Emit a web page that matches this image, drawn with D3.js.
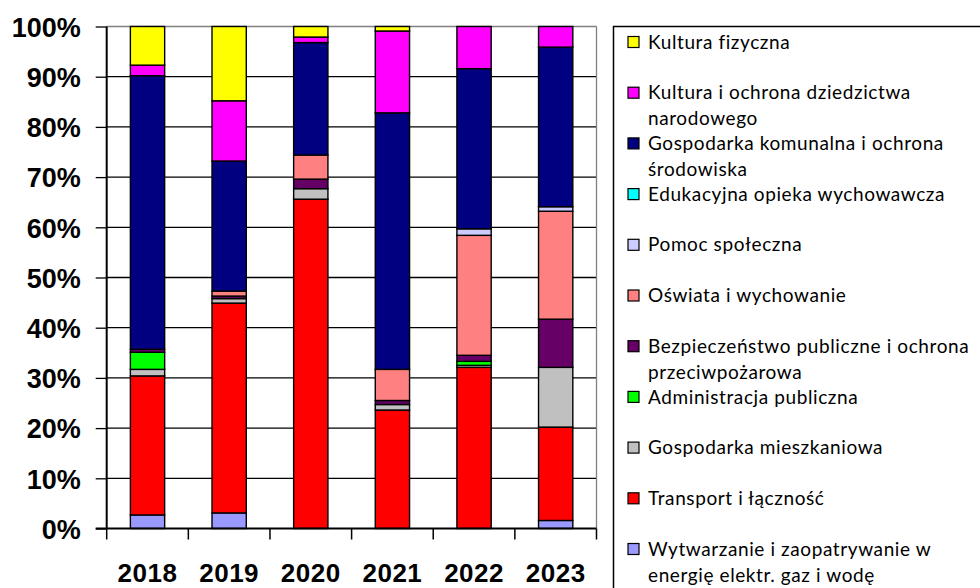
<!DOCTYPE html>
<html><head><meta charset="utf-8">
<script src="https://cdn.jsdelivr.net/npm/d3@7"></script>
<style>body{margin:0;background:#fff}svg{display:block}</style>
</head><body><svg id="c" width="980" height="588"></svg>
<script>
const years = ["2018","2019","2020","2021","2022","2023"];
const seriesNames = [
  "Wytwarzanie i zaopatrywanie w|energię elektr. gaz i wodę",
  "Transport i łączność",
  "Gospodarka mieszkaniowa",
  "Administracja publiczna",
  "Bezpieczeństwo publiczne i ochrona|przeciwpożarowa",
  "Oświata i wychowanie",
  "Pomoc społeczna",
  "Edukacyjna opieka wychowawcza",
  "Gospodarka komunalna i ochrona|środowiska",
  "Kultura i ochrona dziedzictwa|narodowego",
  "Kultura fizyczna"
];
const colors = ["#9999FF","#FF0000","#C0C0C0","#00FF00","#660066","#FF8080","#CCCCFF","#00FFFF","#000080","#FF00FF","#FFFF00"];
const v2018 = [2.7, 27.7, 1.3, 3.4, 0.6, 0, 0, 0, 54.5, 2.1, 7.7];
const v2019 = [3.1, 41.8, 0.9, 0, 0.5, 1.0, 0, 0, 25.9, 12.0, 14.8];
const v2020 = [0, 65.6, 2.1, 0, 1.9, 4.8, 0, 0, 22.4, 1.1, 2.1];
const v2021 = [0, 23.6, 1.1, 0, 0.8, 6.2, 0, 0, 51.1, 16.3, 0.9];
const v2022 = [0, 32.1, 0.4, 0.8, 1.2, 23.9, 1.3, 0, 31.9, 8.4, 0];
const v2023 = [1.6, 18.6, 11.9, 0, 9.6, 21.5, 0.9, 0, 31.8, 4.1, 0];
const yTicks = [0,10,20,30,40,50,60,70,80,90,100];

const valuesByYear = [v2018, v2019, v2020, v2021, v2022, v2023];
const keys = seriesNames.map((d,i)=>"s"+i);
const table = years.map((y,i)=>{const o={year:y}; keys.forEach((k,j)=>o[k]=valuesByYear[i][j]); return o;});

const svg = d3.select("#c");
const L=106.7, R=596.5, T=26.5, B=528.5;
const x = d3.scaleBand().domain(years).range([L,R]).paddingInner(0.58).paddingOuter(0.29);
const y = d3.scaleLinear().domain([0,100]).range([B,T]);

// gridlines
svg.append("g").selectAll("line").data(yTicks.slice(1)).join("line")
  .attr("x1",L).attr("x2",R).attr("y1",d=>y(d)).attr("y2",d=>y(d))
  .attr("stroke",d=>d===100?"#808080":"#000").attr("stroke-width",1.3);
// right border
svg.append("line").attr("x1",R).attr("x2",R).attr("y1",T).attr("y2",B).attr("stroke","#808080").attr("stroke-width",1.3);

const stack = d3.stack().keys(keys)(table);
svg.append("g").selectAll("g").data(stack).join("g")
  .attr("fill",(d,i)=>colors[i])
  .selectAll("rect").data(d=>d).join("rect")
  .filter(d=>d[1]-d[0]>0)
  .attr("x",d=>x(d.data.year)).attr("width",x.bandwidth())
  .attr("y",d=>y(d[1])).attr("height",d=>y(d[0])-y(d[1]))
  .attr("stroke","#000").attr("stroke-width",1.4);

// y axis
const ya = svg.append("g").attr("transform",`translate(${L},0)`)
  .call(d3.axisLeft(y).tickValues(yTicks).tickSize(11).tickFormat(d=>d+"%"));
ya.select(".domain").attr("stroke","#000").attr("stroke-width",2).attr("d",`M0,${T}V${B}`);
ya.selectAll(".tick line").attr("stroke","#000").attr("stroke-width",1.3);
ya.selectAll(".tick text").attr("x",-26).attr("dy","0.36em")
  .attr("font-family","Liberation Sans, Arial, sans-serif").attr("font-weight","bold").attr("font-size",27).attr("fill","#000");

// x axis
const bx = d3.scalePoint().domain(d3.range(years.length+1)).range([L,R]);
svg.append("line").attr("x1",L-11).attr("x2",R).attr("y1",B).attr("y2",B).attr("stroke","#000").attr("stroke-width",2);
svg.append("g").selectAll("line").data(d3.range(years.length+1)).join("line")
  .attr("x1",d=>bx(d)).attr("x2",d=>bx(d)).attr("y1",B).attr("y2",B+11).attr("stroke","#000").attr("stroke-width",1.5);
svg.append("g").selectAll("text").data(years).join("text")
  .attr("x",d=>x(d)+x.bandwidth()/2).attr("y",582).attr("text-anchor","middle")
  .attr("font-family","Liberation Sans, Arial, sans-serif").attr("font-weight","bold").attr("font-size",26).attr("fill","#000")
  .attr("letter-spacing",0.5)
  .text(d=>d);

// legend
const lg = svg.append("g");
lg.append("rect").attr("x",613.5).attr("y",26.5).attr("width",400).attr("height",600)
  .attr("fill","#fff").attr("stroke","#000").attr("stroke-width",1.5);
const order = d3.range(seriesNames.length).reverse();
const ly = d3.scalePoint().domain(order).range([42,549]);
const items = lg.selectAll("g.it").data(order).join("g").attr("class","it")
  .attr("transform",d=>`translate(0,${ly(d)})`);
items.append("rect").attr("x",628).attr("y",-5.5).attr("width",11).attr("height",11)
  .attr("fill",d=>colors[d]).attr("stroke","#000").attr("stroke-width",1.2);
items.each(function(d){
  const lines = seriesNames[d].split("|");
  d3.select(this).selectAll("text").data(lines).join("text")
    .attr("x",648).attr("y",(t,i)=>i*26).attr("dy","0.35em")
    .attr("font-family","Lato, sans-serif").attr("font-size",19).attr("fill","#000")
    .attr("letter-spacing",0.6)
    .text(t=>t);
});
</script></body></html>
